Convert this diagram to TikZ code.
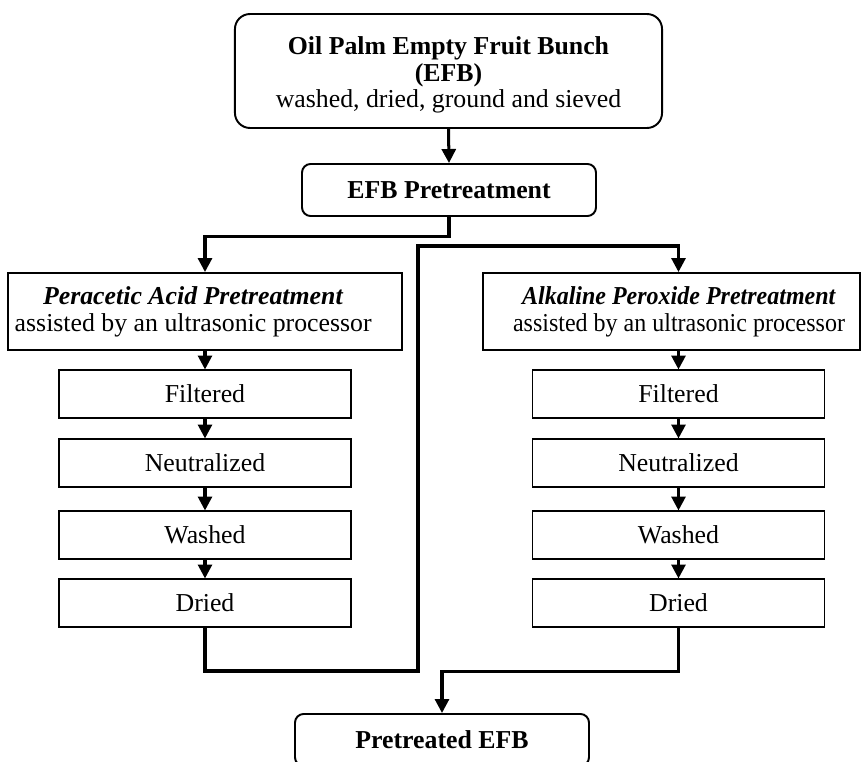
\documentclass[tikz,border=0pt]{standalone}
\usepackage{fontspec}
\setmainfont{Liberation Serif}
\usepackage{graphicx}
\usetikzlibrary{arrows.meta}

\begin{document}
\begin{tikzpicture}[x=0.465pt, y=-0.465pt, >={Triangle[length=6.5pt, width=6.5pt]},
    font=\fontsize{12pt}{12.5pt}\selectfont,
    rbox/.style={draw, line width=0.9pt, align=center, inner sep=2pt},
    pbox/.style={draw, line width=0.9pt, align=center, inner sep=2pt},
    flow/.style={line width=1.4pt, ->}]
        \useasboundingbox (0,0) rectangle (862,762);
        % rounded boxes: raw material, pretreatment, product
        \node [rbox, rounded corners=7pt, minimum width=198.6pt, minimum height=53pt] (top) at (448.5, 71)
            {\rule{0pt}{12pt}\textbf{Oil Palm Empty Fruit Bunch}\\ \textbf{(EFB)}\\ washed, dried, ground and sieved};
        \node [rbox, rounded corners=4pt, minimum width=136.7pt, minimum height=24.2pt] (efb) at (449, 190) {\textbf{EFB Pretreatment}};
        \node [rbox, rounded corners=4pt, minimum width=136.7pt, minimum height=24.2pt] (pe) at (442, 740) {\textbf{Pretreated EFB}};
        % the two routes
        \node [pbox, minimum width=183.2pt, minimum height=35.8pt] (pa) at (205, 311.5)
            {\textbf{\textit{Peracetic Acid Pretreatment}}\hspace*{11pt}\\ assisted by an ultrasonic processor\hspace*{11pt}};
        \node [pbox, minimum width=175.3pt, minimum height=35.8pt] (ap) at (671.5, 311.5)
            {\hspace*{7pt}\scalebox{0.93}[1]{\textbf{\textit{Alkaline Peroxide Pretreatment}}}\\
             \hspace*{7pt}\scalebox{0.93}[1]{assisted by an ultrasonic processor}};
        \node [pbox, minimum width=135.8pt, minimum height=21.9pt] (lf) at (205, 394) {Filtered};
        \node [pbox, minimum width=135.8pt, minimum height=21.9pt] (ln) at (205, 463) {Neutralized};
        \node [pbox, minimum width=135.8pt, minimum height=21.9pt] (lw) at (205, 535) {Washed};
        \node [pbox, minimum width=135.8pt, minimum height=21.9pt] (ld) at (205, 603) {Dried};
        \node [pbox, minimum width=135.8pt, minimum height=21.9pt] (rf) at (678.5, 394) {Filtered};
        \node [pbox, minimum width=135.8pt, minimum height=21.9pt] (rn) at (678.5, 463) {Neutralized};
        \node [pbox, minimum width=135.8pt, minimum height=21.9pt] (rw) at (678.5, 535) {Washed};
        \node [pbox, minimum width=135.8pt, minimum height=21.9pt] (rd) at (678.5, 603) {Dried};
        \coordinate (lbend) at (418, 671);
        \coordinate (ubend) at (418, 246);
        % arrows
        \draw [flow] (top.south) -- (efb.north);
        \draw [flow] (efb.south) -- ++(0, 20) -| (pa.north);
        \draw [flow] (ld.south) |- (lbend) -- (ubend) -| (rf.north |- ap.north);
        \draw [flow] (rd.south) -- ++(0, 44) -| (pe.north);
        \draw [flow] (pa) -- (lf);
        \draw [flow] (lf) -- (ln);
        \draw [flow] (ln) -- (lw);
        \draw [flow] (lw) -- (ld);
        \draw [flow] (rf.north |- ap.south) -- (rf.north);
        \draw [flow] (rf) -- (rn);
        \draw [flow] (rn) -- (rw);
        \draw [flow] (rw) -- (rd);
    \end{tikzpicture}
\end{document}
